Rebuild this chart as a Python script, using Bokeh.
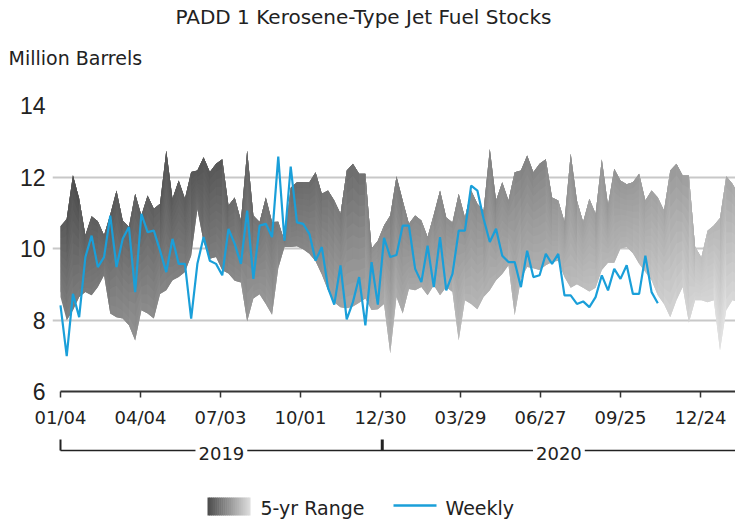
import numpy as np
import pandas as pd
from bokeh.plotting import figure
from bokeh.models import (FixedTicker, DatetimeTickFormatter, Range1d, Label, Title, ColumnDataSource)
from bokeh.layouts import column
from bokeh.embed import file_html
from bokeh.resources import INLINE

# ---------------- data ----------------
title_text = "PADD 1 Kerosene-Type Jet Fuel Stocks"
unit_text = "Million Barrels"
start_date = "2019-01-04"

weekly = [8.41, 6.99, 8.73, 8.08, 9.76, 10.36, 9.48, 9.76, 10.92, 9.48,
          10.27, 10.6, 8.78, 10.97, 10.46, 10.5, 9.94, 9.34, 10.27, 9.57,
          9.57, 8.04, 9.57, 10.32, 9.66, 9.57, 9.25, 10.55, 10.13, 9.57,
          11.06, 9.15, 10.64, 10.69, 10.32, 12.57, 10.22, 12.29, 10.73, 10.69,
          10.41, 9.66, 10.04, 8.9, 8.43, 9.53, 8.02, 8.5, 9.2, 7.85,
          9.62, 8.43, 10.3, 9.76, 9.82, 10.64, 10.64, 9.43, 9.06, 10.08,
          8.92, 10.32, 8.83, 9.29, 10.5, 10.5, 11.76, 11.62, 10.83, 10.18,
          10.55, 9.8, 9.62, 9.62, 8.92, 9.94, 9.2, 9.25, 9.85, 9.57,
          9.85, 8.69, 8.69, 8.45, 8.52, 8.36, 8.64, 9.25, 8.83, 9.43,
          9.15, 9.53, 8.73, 8.73, 9.8, 8.78, 8.47]

range_high = [10.62, 10.83, 12.05, 11.4, 10.37, 10.9, 10.76, 10.37, 10.95, 11.62,
              10.78, 10.6, 11.53, 10.92, 11.48, 11.11, 11.25, 12.74, 11.39, 11.9,
              11.39, 12.14, 12.18, 12.55, 12.14, 12.37, 12.5, 11.2, 11.43, 10.78,
              12.74, 10.92, 10.74, 11.43, 10.74, 10.75, 10.2, 11.7, 11.85, 11.85,
              11.85, 12.13, 11.53, 11.62, 11.34, 10.97, 12.18, 12.37, 12.09, 12.09,
              10.0, 10.22, 10.64, 10.92, 12.02, 11.34, 10.69, 10.92, 10.78, 10.32,
              10.95, 11.62, 10.87, 10.73, 11.53, 10.87, 11.62, 11.25, 11.06, 12.78,
              11.34, 11.85, 11.34, 12.13, 12.18, 12.6, 12.13, 12.37, 12.5, 11.43,
              11.34, 10.75, 12.66, 11.34, 10.74, 11.39, 10.97, 12.5, 11.2, 12.23,
              11.9, 11.8, 11.85, 12.09, 11.34, 11.62, 11.43, 11.06, 12.18, 12.37,
              12.04, 12.04, 10.04, 9.75, 10.5, 10.64, 10.85, 12.02, 11.81, 11.5]

range_low = [8.64, 7.99, 8.27, 8.64, 8.78, 8.69, 8.92, 9.25, 8.18, 8.08,
             8.04, 7.85, 7.43, 8.27, 8.18, 8.04, 8.73, 8.83, 9.11, 9.2,
             9.34, 9.8, 11.1, 10.18, 9.71, 9.76, 9.39, 9.3, 9.1, 9.05,
             7.96, 8.6, 8.72, 8.45, 8.15, 9.45, 10.04, 10.04, 10.06, 9.98,
             9.85, 9.64, 9.27, 8.83, 8.5, 8.36, 8.33, 8.38, 8.48, 8.6,
             8.28, 8.3, 8.45, 7.06, 8.64, 8.18, 8.87, 8.83, 8.92, 8.69,
             8.97, 8.69, 8.92, 8.78, 7.43, 8.55, 8.45, 8.3, 8.64, 8.83,
             9.11, 9.29, 9.53, 8.13, 9.15, 9.48, 9.45, 9.4, 9.53, 9.62,
             9.66, 9.2, 8.9, 9.0, 8.9, 8.8, 8.9, 9.4, 9.6, 9.6,
             10.0, 10.04, 9.87, 9.57, 9.34, 9.11, 8.69, 8.45, 8.08, 8.55,
             8.92, 7.92, 8.55, 8.55, 8.5, 8.55, 7.15, 8.27, 8.55, 8.5]

tick_dates = ["2019-01-04", "2019-04-04", "2019-07-03", "2019-10-01", "2019-12-30",
              "2020-03-29", "2020-06-27", "2020-09-25", "2020-12-24"]
y_ticks = [6, 8, 10, 12, 14]
year_names = ["2019", "2020"]
year_bounds = ["2019-01-04", "2020-01-01"]
legend_names = ["5-yr Range", "Weekly"]

x_start_date = "2018-12-26"
x_end_date = "2021-02-01 10:00"


def ms(d):
    return pd.Timestamp(d).value / 1e6


week_x = [ms(d) for d in pd.date_range(start_date, periods=len(weekly), freq="7D")]
band_x = [ms(d) for d in pd.date_range(start_date, periods=len(range_high), freq="7D")]
x0, x1 = ms(x_start_date), ms(x_end_date)

BLUE = "#1a9fd9"
TXT = "#222222"
FONT = "DejaVu Sans"
W = 735
LEFT = 52


def gray(g):
    g = int(round(max(55, min(236, g))))
    return "#%02x%02x%02x" % (g, g, g)


# ---------------- gradient band (overlapping tiles, painter's order) ----------------
M = 12
xs, ys, cols = [], [], []
nb = len(band_x)
for k in range(nb - 1):
    kk = [k, k + 1] + ([k + 2] if k + 2 < nb else [])
    for j in range(M):
        ta = j / M
        tb = min(1.0, (j + 2) / M)
        low_pts = [range_low[i] + (range_high[i] - range_low[i]) * ta for i in kk]
        up_pts = [range_low[i] + (range_high[i] - range_low[i]) * tb for i in kk]
        xs.append([band_x[i] for i in kk] + [band_x[i] for i in reversed(kk)])
        ys.append(low_pts + list(reversed(up_pts)))
        tmid = (j + 0.5) / M
        xm = (band_x[k] + band_x[k + 1]) / 2
        ym = np.mean([range_low[i] + (range_high[i] - range_low[i]) * tmid for i in (k, k + 1)])
        xf = (xm - x0) / (x1 - x0)
        cols.append(gray(85 + 95 * xf + 15 * (11 - ym)))

band_src = ColumnDataSource(dict(xs=xs, ys=ys, c=cols))
line_src = ColumnDataSource(dict(x=week_x, y=weekly))

# ---------------- main plot ----------------
p = figure(width=W, height=430, x_axis_type="datetime",
           x_range=Range1d(x0, x1), y_range=Range1d(6, 14),
           toolbar_location=None, output_backend="svg",
           min_border_left=LEFT, min_border_right=0, min_border_top=105, min_border_bottom=39)
p.title.visible = False
p.outline_line_color = None

# titles (first added = nearest the plot)
p.add_layout(Title(text="\u00a0", text_font=FONT, text_font_size="10px", standoff=9), "above")
p.add_layout(Title(text=unit_text, align="left", offset=-44, standoff=30,
                   text_font=FONT, text_font_size="19px", text_font_style="normal",
                   text_color=TXT), "above")
p.add_layout(Title(text=title_text, align="left", offset=123, standoff=2,
                   text_font=FONT, text_font_size="20px", text_font_style="normal",
                   text_color=TXT), "above")

p.patches("xs", "ys", source=band_src, fill_color="c", line_color=None)
p.line("x", "y", source=line_src, line_color=BLUE, line_width=2.2)

p.xgrid.visible = False
p.ygrid.ticker = FixedTicker(ticks=y_ticks)
p.ygrid.grid_line_color = "#c8c8c8"
p.ygrid.grid_line_width = 2

yax = p.yaxis[0]
yax.ticker = FixedTicker(ticks=y_ticks)
yax.axis_line_color = None
yax.major_tick_line_color = None
yax.minor_tick_line_color = None
yax.major_tick_out = 0
yax.minor_tick_out = 0
yax.major_label_standoff = 7
yax.major_label_text_font = "Liberation Sans"
yax.major_label_text_font_size = "23px"
yax.major_label_text_color = TXT

xax = p.xaxis[0]
xax.ticker = FixedTicker(ticks=[ms(d) for d in tick_dates])
xax.formatter = DatetimeTickFormatter(days="%m/%d", months="%m/%d", years="%m/%d",
                                      hours="%m/%d", hourmin="%m/%d")
xax.bounds = (ms(start_date), x1)
xax.axis_line_color = "#333333"
xax.axis_line_width = 2
xax.major_tick_line_color = "#333333"
xax.major_tick_line_width = 1.5
xax.major_tick_in = 0
xax.major_tick_out = 6
xax.minor_tick_line_color = None
xax.minor_tick_out = 0
xax.major_label_standoff = 9
xax.major_label_text_font = FONT
xax.major_label_text_font_size = "18px"
xax.major_label_text_color = TXT

# ---------------- year bracket (shares the x scale) ----------------
yrs = figure(width=W, height=40, x_range=p.x_range, y_range=Range1d(0, 40),
             toolbar_location=None, output_backend="svg",
             min_border_left=LEFT, min_border_right=0, min_border_top=0, min_border_bottom=0,
             x_axis_location=None, y_axis_location=None)
yrs.outline_line_color = None
yrs.grid.visible = False
yb = [ms(d) for d in year_bounds]
yrs.line([yb[0], x1], [20, 20], line_color=TXT, line_width=1.5)
yrs.segment(x0=yb, y0=[20, 20], x1=yb, y1=[31, 31], line_color=TXT, line_width=[2, 3])
edges = yb + [x1]
for i, name in enumerate(year_names):
    mid = (edges[i] + edges[i + 1]) / 2
    yrs.add_layout(Label(x=mid, y=17.5, text=name, text_align="center",
                         text_baseline="middle", text_font=FONT, text_font_size="18px",
                         text_color=TXT, background_fill_color="white", padding=3))

# ---------------- legend ----------------
leg = figure(width=W, height=52, x_range=Range1d(LEFT, W), y_range=Range1d(0, 52),
             toolbar_location=None, output_backend="svg",
             min_border_left=LEFT, min_border_right=0, min_border_top=0, min_border_bottom=0,
             x_axis_location=None, y_axis_location=None)
leg.outline_line_color = None
leg.grid.visible = False
n_sw = 22
sw_l = [207 + 43 * i / n_sw for i in range(n_sw)]
sw_r = [207 + 43 * min(n_sw, i + 1.3) / n_sw for i in range(n_sw)]
sw_c = [gray(78 + 142 * i / (n_sw - 1)) for i in range(n_sw)]
leg.quad(left=sw_l, right=sw_r, bottom=7, top=25, fill_color=sw_c, line_color=None)
leg.line([393, 436], [17, 17], line_color=BLUE, line_width=2.5)
leg.add_layout(Label(x=260, y=14.5, text=legend_names[0], text_baseline="middle",
                     text_font=FONT, text_font_size="19px", text_color=TXT))
leg.add_layout(Label(x=445, y=14.5, text=legend_names[1], text_baseline="middle",
                     text_font=FONT, text_font_size="19px", text_color=TXT))

layout = column(p, yrs, leg)
open("out.html", "w").write(file_html(layout, INLINE))
